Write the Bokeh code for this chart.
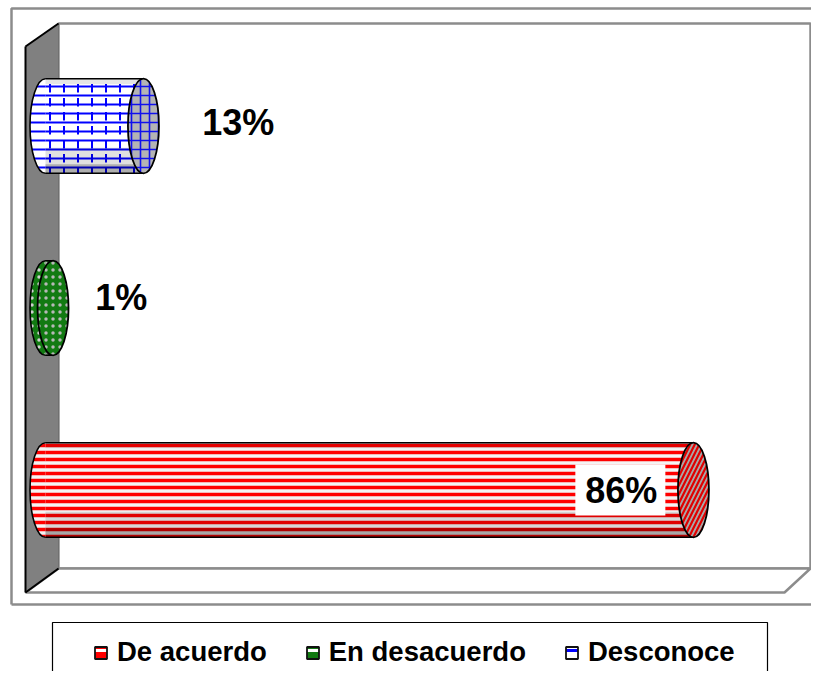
from bokeh.plotting import figure
from bokeh.models import Range1d, Legend, LegendItem
from bokeh.embed import file_html
from bokeh.resources import INLINE
from bokeh.core.properties import value

# ---- data ----
categories = ["De acuerdo", "En desacuerdo", "Desconoce"]
percents = [86, 1, 13]
value_labels = ["86%", "1%", "13%"]

# ---- styles (per category) ----
body_fill = ["#f4f4f4", "#127a12", "#ffffff"]
body_hatch = ["horizontal_line", "dot", "horizontal_line"]
body_hatch_color = ["#ff0000", "#cfcfcf", "#0000ff"]
body_hatch_scale = [7, 7, 9]
body_hatch_weight = [3.5, 2.5, 2]
cap_fill = ["#a8a8a8", "#127a12", "#b4b4b4"]
cap_hatch = ["right_diagonal_line", "dot", "cross"]
cap_hatch_color = ["#e00000", "#b8b8b8", "#1010ee"]
cap_hatch_scale = [9, 7, 9]
cap_hatch_weight = [2.2, 2.5, 1.6]
legend_fill = ["#ff0000", "#127a12", "#ffffff"]
legend_hatch_color = ["#ffffff", "#ffffff", "#0000ff"]
label_dx = [-4.8, 5.6, 7.8]
label_dy = [0.0, 0.055, 0.02]
label_align = ["right", "left", "left"]

W, H = 811, 671
p = figure(width=W, height=H, output_backend="svg", toolbar_location=None,
           x_range=Range1d(0, W), y_range=Range1d(H, 0),
           x_axis_location=None, y_axis_location=None, min_border=0,
           background_fill_color="white", border_fill_color="white")
p.grid.visible = False
p.outline_line_color = None

ZERO_PX, PX_PER_PCT = 45.0, 7.534
CAT0_PX, PX_PER_CAT = 489.5, 182.0
p.extra_x_ranges = {"pct": Range1d((0 - ZERO_PX) / PX_PER_PCT, (W - ZERO_PX) / PX_PER_PCT)}
p.extra_y_ranges = {"cat": Range1d((CAT0_PX - H) / PX_PER_CAT, CAT0_PX / PX_PER_CAT)}

GRAY = "#8c8c8c"
# outer frame
p.line([11, 11, 830], [604, 8, 8], line_color=GRAY, line_width=2.5)
p.line([11, 830], [604, 604], line_color=GRAY, line_width=2.5)
# back wall
p.quad(left=58, right=810, top=23, bottom=568, fill_color="white",
       line_color=GRAY, line_width=2.5)
# floor
p.patch([25, 58, 810, 784], [592, 568, 568, 592], fill_color="white",
        line_color=GRAY, line_width=2.5)
# left wall
p.patch([25, 58, 58, 25], [46, 23, 568, 592], fill_color="#808080",
        line_color="#707070", line_width=1)
p.multi_line([[25, 25], [25, 58], [25, 58]], [[46, 592], [46, 23], [592, 568]],
             line_color="black", line_width=2)

HH = 0.26
kw = dict(x_range_name="pct", y_range_name="cat")
legend_items = []
for i, (cat, v) in enumerate(zip(categories, percents)):
    bstyle = dict(fill_color=body_fill[i], hatch_pattern=body_hatch[i],
                  hatch_color=body_hatch_color[i], hatch_scale=body_hatch_scale[i],
                  hatch_weight=body_hatch_weight[i])
    # left end of the cylinder
    p.ellipse(x=[0], y=[i], width=31, height=2 * HH, width_units="screen",
              height_units="data", line_color="black", line_width=1.6, **bstyle, **kw)
    # body
    p.hbar(y=[i], left=[0], right=[v], height=2 * HH, line_color=None, **bstyle, **kw)
    if i == 2:
        p.hbar(y=[i], left=[0], right=[v], height=2 * HH, line_color=None,
               fill_alpha=0, hatch_pattern="vertical_dash", hatch_color="#0000ff",
               hatch_scale=14, hatch_weight=2, **kw)
    # shading of the cylinder
    p.hbar(y=[i - HH + 0.07], left=[0], right=[v], height=0.14, fill_color="black",
           fill_alpha=0.12, line_color=None, **kw)
    p.hbar(y=[i - HH + 0.025], left=[0], right=[v], height=0.05, fill_color="black",
           fill_alpha=0.22, line_color=None, **kw)
    p.hbar(y=[i + HH - 0.015], left=[0], right=[v], height=0.03, fill_color="black",
           fill_alpha=0.1, line_color=None, **kw)
    # outline
    p.segment(x0=[0, 0], y0=[i + HH, i - HH], x1=[v, v], y1=[i + HH, i - HH],
              line_color="black", line_width=1.6, **kw)
    # front cap
    p.ellipse(x=[v], y=[i], width=31, height=2 * HH, width_units="screen",
              height_units="data", fill_color=cap_fill[i], hatch_pattern=cap_hatch[i],
              hatch_color=cap_hatch_color[i], hatch_scale=cap_hatch_scale[i],
              hatch_weight=cap_hatch_weight[i], line_color="black", line_width=1.8, **kw)

    # legend key (drawn outside the visible range; only its swatch is used)
    proxy = p.rect(x=[-40], y=[-3], width=1, height=1, line_color="#111111",
                   line_width=1.8, fill_color=legend_fill[i],
                   hatch_pattern="horizontal_line", hatch_color=legend_hatch_color[i],
                   hatch_scale=9, hatch_weight=3, **kw)
    legend_items.append(LegendItem(label=cat, renderers=[proxy]))

    # value labels
    lx = v + label_dx[i]
    ly = i + label_dy[i]
    if label_align[i] == "right":
        p.rect(x=[v - 9.7], y=[i], width=90, height=51, width_units="screen",
               height_units="screen", fill_color="white", line_color=None, **kw)
    p.text(x=[lx], y=[ly], text=[value_labels[i]], text_align=label_align[i],
           text_baseline="middle", text_font=value("Liberation Sans"),
           text_font_style="bold", text_font_size="36px", text_color="black", **kw)

# legend box
p.quad(left=52, right=767, top=622, bottom=720, fill_alpha=0,
       line_color="black", line_width=1.2)

legend = Legend(items=legend_items, orientation="horizontal", location=(93, 3),
                padding=0, margin=0, spacing=38, glyph_width=15, glyph_height=15,
                label_standoff=9, label_text_font="Liberation Sans",
                label_text_font_style="bold", label_text_font_size="27.5px",
                label_text_color="black",
                border_line_color=None, background_fill_alpha=0)
p.add_layout(legend)

open("out.html", "w").write(file_html(p, INLINE))
